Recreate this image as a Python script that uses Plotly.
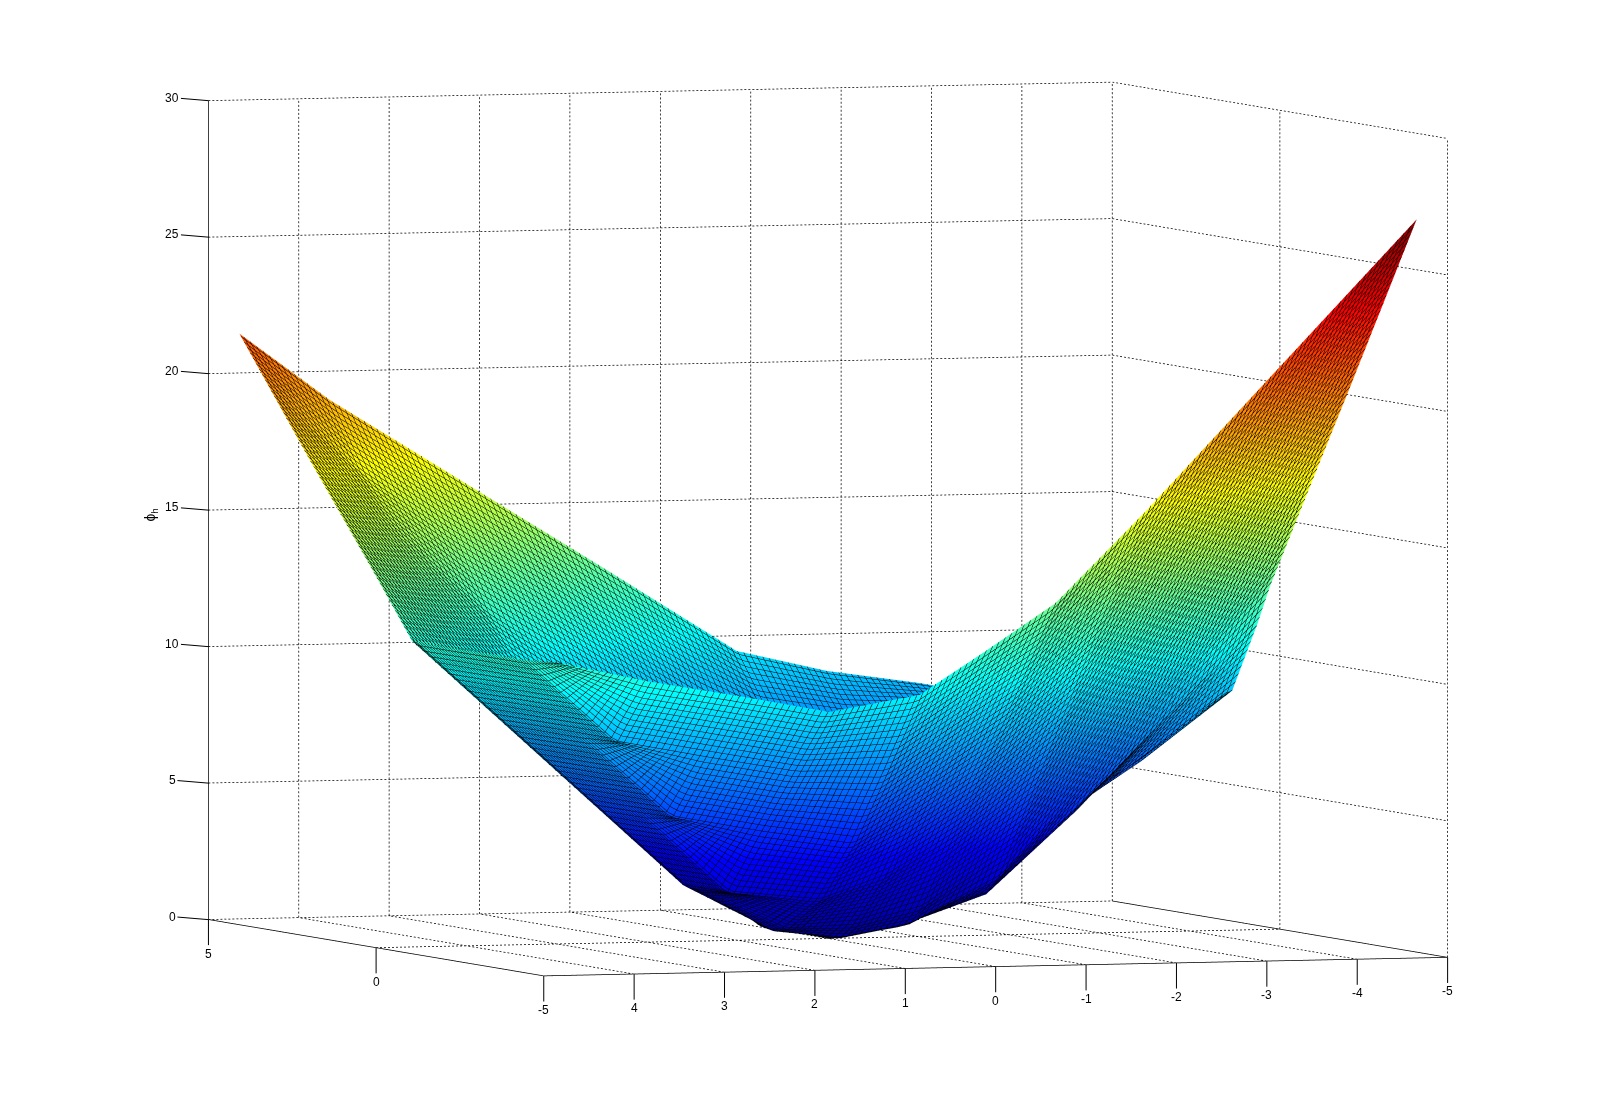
#!/usr/bin/env python3
"""Surface of phi_h over a piecewise linear grid, MATLAB surf look"""
import math
import plotly.graph_objects as go

# breakpoints of the surface
x_vals = [-4.75, -3.75, -2.75, -1.75, -0.75, 0, 0.75, 1.75, 2.75, 3.75, 4.75]
y_vals = [-4.75, -3.75, -2.75, -1.75, -0.75, -0.4, 0, 0.75, 1.75, 2.75, 3.75, 4.75]
z_vals = [
    [27.0, 23.5, 20.0, 16.5, 13.2, 11.55, 9.95, 9.4, 10.05, 10.65, 11.4],
    [23.7, 20.2, 16.7, 13.2, 10.15, 8.55, 6.95, 7.0, 7.6, 8.25, 11.3],
    [20.4, 16.9, 13.4, 9.9, 7.15, 5.55, 4.05, 4.57, 5.2, 8.25, 11.3],
    [17.15, 13.65, 10.15, 6.65, 4.15, 2.65, 1.8, 2.15, 5.2, 8.25, 11.3],
    [13.87, 10.37, 6.87, 3.4, 1.2, 0.6, 0.55, 2.15, 5.2, 8.25, 11.3],
    [12.74, 9.24, 5.74, 2.2, 0.55, 0.1, 0.4, 2.15, 5.2, 8.25, 11.3],
    [11.2, 7.9, 4.5, 1.5, 0.35, 0.0, 0.5, 2.95, 6.0, 9.05, 12.1],
    [8.6, 6.1, 3.95, 1.6, 0.8, 0.7, 1.6, 4.45, 7.5, 10.5, 13.6],
    [8.0, 6.3, 4.8, 3.0, 2.65, 3.15, 4.75, 6.85, 9.45, 12.5, 15.55],
    [7.65, 6.7, 5.9, 4.9, 4.95, 5.8, 7.4, 9.5, 11.6, 14.5, 17.5],
    [7.3, 7.1, 7.0, 6.8, 7.25, 8.45, 10.0, 12.15, 14.25, 16.5, 19.5],
    [6.9, 7.6, 8.2, 8.7, 9.5, 11.1, 12.7, 14.8, 16.9, 19.0, 21.5],
]

x_ticks = [5, 4, 3, 2, 1, 0, -1, -2, -3, -4, -5]
y_ticks = [5, 0, -5]
z_ticks = [0, 5, 10, 15, 20, 25, 30]

jet = [
    [0.0, "rgb(0,0,143)"],
    [0.125, "rgb(0,0,255)"],
    [0.375, "rgb(0,255,255)"],
    [0.625, "rgb(255,255,0)"],
    [0.875, "rgb(255,0,0)"],
    [1.0, "rgb(128,0,0)"],
]

FONT = dict(family="Liberation Sans, Arial, sans-serif", size=12, color="black")
MESH_X = 0.07
MESH_Y = 0.09
DOT_PERIOD = 4.0  # screen pixels between grid dots
PX_PER_UNIT = (90.4, 34.5, 27.3)  # rough screen size of one data unit per axis


def mesh_lines(lo, hi, size):
    return dict(show=True, start=lo, end=hi + 0.001, size=size, color="black", width=1)


def grid_segments():
    """Dotted grid on the floor and the two back walls, as short dashes"""
    xs, ys, zs = [], [], []

    def seg(a, b):
        px = math.sqrt(sum(((b[i] - a[i]) * PX_PER_UNIT[i]) ** 2 for i in range(3)))
        n = max(1, int(px / DOT_PERIOD))
        for k in range(n):
            f0, f1 = k / n, (k + 0.5) / n
            xs.extend([a[0] + (b[0] - a[0]) * f0, a[0] + (b[0] - a[0]) * f1, None])
            ys.extend([a[1] + (b[1] - a[1]) * f0, a[1] + (b[1] - a[1]) * f1, None])
            zs.extend([a[2] + (b[2] - a[2]) * f0, a[2] + (b[2] - a[2]) * f1, None])

    xmin, xmax = min(x_ticks), max(x_ticks)
    ymin, ymax = min(y_ticks), max(y_ticks)
    zmin, zmax = min(z_ticks), max(z_ticks)
    for t in x_ticks:
        seg((t, ymin, zmin), (t, ymax, zmin))
        seg((t, ymax, zmin), (t, ymax, zmax))
    for t in y_ticks:
        seg((xmax, t, zmin), (xmin, t, zmin))
        seg((xmin, t, zmin), (xmin, t, zmax))
    for t in z_ticks:
        seg((xmax, ymax, t), (xmin, ymax, t))
        seg((xmin, ymax, t), (xmin, ymin, t))
    return xs, ys, zs


fig = go.Figure()

fig.add_trace(go.Surface(
    x=x_vals, y=y_vals, z=z_vals,
    colorscale=jet, cmin=0, cmax=27, showscale=False, hoverinfo="skip",
    lighting=dict(ambient=1, diffuse=0, specular=0, roughness=1, fresnel=0),
    contours=dict(
        x=mesh_lines(x_vals[0], x_vals[-1], MESH_X),
        y=mesh_lines(y_vals[0], y_vals[-1], MESH_Y),
    ),
))

gx, gy, gz = grid_segments()
fig.add_trace(go.Scatter3d(
    x=gx, y=gy, z=gz, mode="lines", hoverinfo="skip", showlegend=False,
    line=dict(color="black", width=1.5),
))

# solid axis lines
fig.add_trace(go.Scatter3d(
    x=[5, 5, 5, -5], y=[5, 5, -5, -5], z=[30, 0, 0, 0],
    mode="lines", hoverinfo="skip", showlegend=False,
    line=dict(color="black", width=1.5),
))

labels = []
for t in x_ticks[1:]:
    labels.append(dict(x=t, y=-5, z=0, text=str(t), showarrow=True, arrowhead=0, arrowwidth=1,
                       arrowcolor="black", ax=0, ay=34, standoff=0, font=FONT))
for t in y_ticks:
    labels.append(dict(x=5, y=t, z=0, text=str(t), showarrow=True, arrowhead=0, arrowwidth=1,
                       arrowcolor="black", ax=0, ay=34, standoff=0, font=FONT))
for t in z_ticks:
    labels.append(dict(x=5, y=5, z=t, text=str(t), showarrow=True, arrowhead=0, arrowwidth=1,
                       arrowcolor="black", ax=-36, ay=-3, standoff=0, font=FONT))
labels.append(dict(x=5, y=5, z=15, text="ϕ<sub>h</sub>", showarrow=False, textangle=-90,
                   xshift=-57, yshift=-5, font=dict(FONT, size=14)))

hidden = dict(showgrid=False, zeroline=False, showticklabels=False, showline=False,
              showbackground=False, showspikes=False, ticks="", title="")

EYE_SCALE = 4
BOX = 1.9525

fig.update_layout(
    width=1601, height=1097,
    margin=dict(l=0, r=0, t=0, b=0),
    paper_bgcolor="white",
    showlegend=False,
    scene=dict(
        domain=dict(x=[0.0244, 1], y=[0.05, 1]),
        xaxis=dict(hidden, autorange="reversed"),
        yaxis=dict(hidden, range=[-5, 5]),
        zaxis=dict(hidden, range=[0, 30]),
        aspectmode="manual",
        aspectratio=dict(x=BOX, y=BOX, z=1.5744),
        camera=dict(
            projection=dict(type="orthographic"),
            up=dict(x=0, y=0, z=1),
            center=dict(x=0, y=0, z=0),
            eye=dict(x=-0.3297 * EYE_SCALE, y=-0.9443 * EYE_SCALE, z=0.0588 * EYE_SCALE),
        ),
        annotations=labels,
    ),
)

fig.write_html("out.html")
